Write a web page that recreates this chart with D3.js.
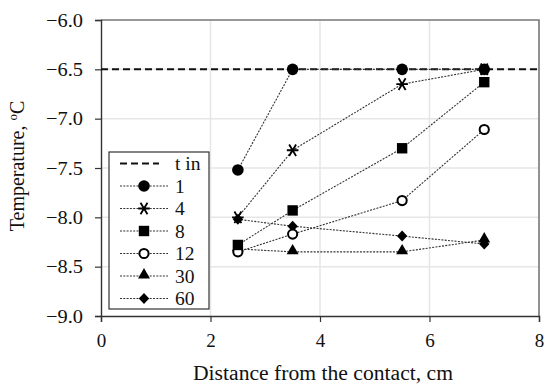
<!DOCTYPE html>
<html>
<head>
<meta charset="utf-8">
<script src="https://cdn.jsdelivr.net/npm/d3@7"></script>
<style>
  body { margin: 0; background: #fff; }
  text { font-family: "Liberation Serif", "DejaVu Serif", serif; fill: #111; }
</style>
</head>
<body>
<script>
// data
var distance = [2.5, 3.5, 5.5, 7];
var seriesNames = ["1", "4", "8", "12", "30", "60"];
var seriesSymbols = ["circle", "asterisk", "square", "ring", "triangle", "diamond"];
var temp1  = [-7.52, -6.50, -6.50, -6.50];
var temp4  = [-8.00, -7.32, -6.65, -6.50];
var temp8  = [-8.28, -7.93, -7.30, -6.63];
var temp12 = [-8.35, -8.17, -7.83, -7.11];
var temp30 = [-8.32, -8.35, -8.35, -8.23];
var temp60 = [-8.02, -8.09, -8.19, -8.27];
var tIn = -6.5;
var xTicks = [0, 2, 4, 6, 8];
var yTicks = [-9.0, -8.5, -8.0, -7.5, -7.0, -6.5, -6.0];

var allTemps = [temp1, temp4, temp8, temp12, temp30, temp60];

var width = 550, height = 388;
var margin = {top: 20, right: 11, bottom: 72, left: 101};
var serif = "'Liberation Serif', 'DejaVu Serif', serif";

var svg = d3.select('body')
    .append('svg')
    .attr('width', width)
    .attr('height', height)
    .attr('font-family', serif);

var x = d3.scaleLinear()
    .domain([0, 8])
    .range([margin.left, width - margin.right]);
var y = d3.scaleLinear()
    .domain([-9, -6])
    .range([height - margin.bottom, margin.top]);

// grid
svg.append("g").selectAll("line.gx")
    .data(xTicks.slice(1, -1))
    .enter().append("line")
    .attr("x1", function(d) { return x(d); })
    .attr("x2", function(d) { return x(d); })
    .attr("y1", y(-9)).attr("y2", y(-6))
    .attr("stroke", "#e6e6e6").attr("stroke-width", 1.5);
svg.append("g").selectAll("line.gy")
    .data(yTicks.slice(1, -1))
    .enter().append("line")
    .attr("x1", x(0)).attr("x2", x(8))
    .attr("y1", function(d) { return y(d); })
    .attr("y2", function(d) { return y(d); })
    .attr("stroke", "#e6e6e6").attr("stroke-width", 1.5);

// frame top/right
svg.append("path")
    .attr("d", "M" + x(0) + "," + y(-6) + "H" + x(8) + "V" + y(-9))
    .attr("fill", "none")
    .attr("stroke", "#777")
    .attr("stroke-width", 1.6);

var fmt = function(d) { return d3.format(".1f")(d).replace("-", "\u2212"); };

var yAxis = svg.append("g")
    .attr("transform", "translate(" + x(0) + ",0)")
    .call(d3.axisLeft(y).tickValues(yTicks).tickFormat(fmt).tickSizeOuter(0).tickSize(6).tickPadding(12));
var xAxis = svg.append("g")
    .attr("transform", "translate(0," + y(-9) + ")")
    .call(d3.axisBottom(x).tickValues(xTicks).tickFormat(d3.format("d")).tickSizeOuter(0).tickSize(6).tickPadding(12));
[xAxis, yAxis].forEach(function(ax) {
  ax.attr("font-family", serif).attr("font-size", 19);
  ax.select(".domain").attr("stroke", "#333").attr("stroke-width", 1.4);
  ax.selectAll(".tick line").attr("stroke", "#333").attr("stroke-width", 1.2);
  ax.selectAll(".tick text").attr("fill", "#111");
});
// the source picture is a little wider than tall, stretch the y labels a bit
yAxis.selectAll(".tick text")
    .attr("textLength", 37)
    .attr("lengthAdjust", "spacingAndGlyphs");

// axis titles
svg.append("text")
    .attr("x", 193)
    .attr("y", 380)
    .attr("textLength", 260)
    .attr("lengthAdjust", "spacingAndGlyphs")
    .attr("font-size", 20)
    .text("Distance from the contact, cm");

var yt = svg.append("text")
    .attr("transform", "translate(24,166) rotate(-90)")
    .attr("text-anchor", "middle")
    .attr("font-size", 20);
yt.append("tspan").text("Temperature, ");
yt.append("tspan").attr("dy", -7).attr("font-size", 13).text("o");
yt.append("tspan").attr("dy", 7).text("C");

// t in line
svg.append("line")
    .attr("x1", x(0)).attr("x2", x(8))
    .attr("y1", y(tIn)).attr("y2", y(tIn))
    .attr("stroke", "#111").attr("stroke-width", 2)
    .attr("stroke-dasharray", "7,4");

function drawMarker(g, kind, cx, cy) {
  if (kind === "circle") {
    g.append("circle").attr("cx", cx).attr("cy", cy).attr("r", 5.8).attr("fill", "#000");
  } else if (kind === "ring") {
    g.append("circle").attr("cx", cx).attr("cy", cy).attr("r", 4.6)
      .attr("fill", "#fff").attr("stroke", "#000").attr("stroke-width", 2);
  } else if (kind === "square") {
    g.append("rect").attr("x", cx - 5.2).attr("y", cy - 5.2).attr("width", 10.4).attr("height", 10.4).attr("fill", "#000");
  } else if (kind === "triangle") {
    g.append("path").attr("d", d3.symbol(d3.symbolTriangle, 62)()).attr("transform", "translate(" + cx + "," + (cy - 1) + ")").attr("fill", "#000");
  } else if (kind === "diamond") {
    g.append("path").attr("d", "M0,-5.5L5.2,0L0,5.5L-5.2,0Z").attr("transform", "translate(" + cx + "," + cy + ")").attr("fill", "#000");
  } else if (kind === "asterisk") {
    var s = 5.8;
    var p = "M" + (-s) + ",0H" + s + "M" + (-s * 0.6) + "," + (-s) + "L" + (s * 0.6) + "," + s + "M" + (s * 0.6) + "," + (-s) + "L" + (-s * 0.6) + "," + s;
    g.append("path").attr("d", p).attr("transform", "translate(" + cx + "," + cy + ")")
      .attr("stroke", "#000").attr("stroke-width", 1.8).attr("fill", "none");
  }
}

var line = d3.line()
    .x(function(d, i) { return x(distance[i]); })
    .y(function(d) { return y(d); });

// draw series, bottom ones first so the top ones overlap
var order = [5, 4, 3, 2, 1, 0];
order.forEach(function(si) {
  var g = svg.append("g");
  g.append("path")
      .attr("d", line(allTemps[si]))
      .attr("fill", "none")
      .attr("stroke", "#333")
      .attr("stroke-width", 1.1)
      .attr("stroke-dasharray", "2,1.3");
  allTemps[si].forEach(function(v, i) {
    drawMarker(g, seriesSymbols[si], x(distance[i]), y(v));
  });
});

// legend
var lg = svg.append("g").attr("transform", "translate(109,152)").attr("font-size", 19.5);
lg.append("rect")
    .attr("width", 100).attr("height", 157)
    .attr("fill", "#fff").attr("stroke", "#333").attr("stroke-width", 1.2);
var rowH = 22.5, row0 = 11.5;
lg.append("line")
    .attr("x1", 11).attr("x2", 50).attr("y1", row0).attr("y2", row0)
    .attr("stroke", "#111").attr("stroke-width", 2).attr("stroke-dasharray", "7,4");
lg.append("text").attr("x", 66).attr("y", row0 + 6).text("t in");
seriesNames.forEach(function(name, i) {
  var yy = row0 + rowH * (i + 1);
  lg.append("line")
      .attr("x1", 11).attr("x2", 59).attr("y1", yy).attr("y2", yy)
      .attr("stroke", "#333").attr("stroke-width", 1.1).attr("stroke-dasharray", "2,1.3");
  drawMarker(lg, seriesSymbols[i], 35, yy);
  lg.append("text").attr("x", 66).attr("y", yy + 6.5).text(name);
});
</script>
</body>
</html>
